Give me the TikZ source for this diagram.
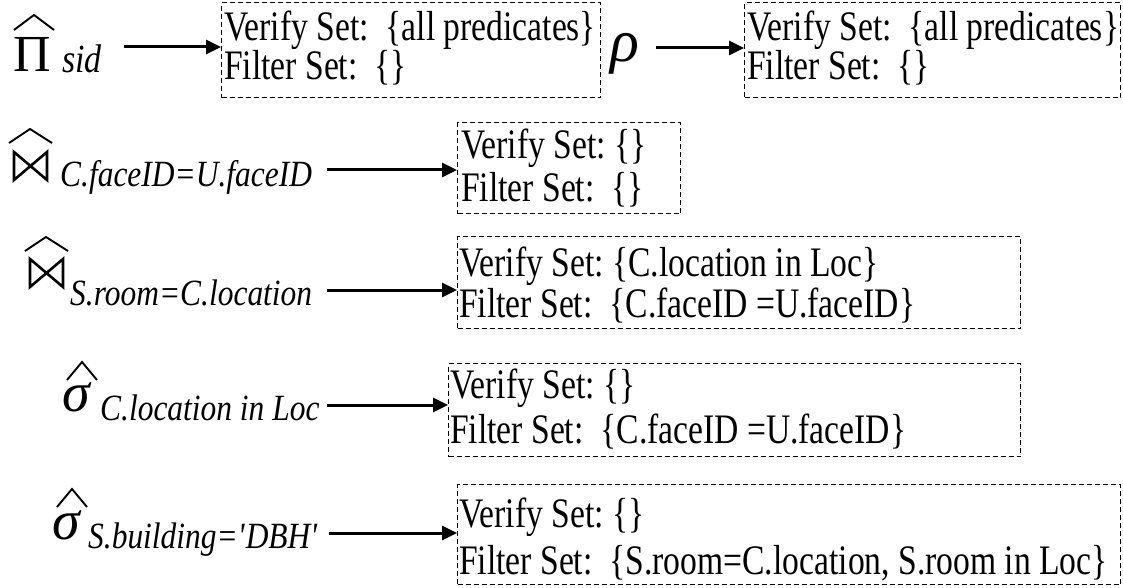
\documentclass[tikz,border=0pt]{standalone}
\usepackage{fontspec}
\setmainfont{Liberation Serif}[FakeStretch=0.8]
\newfontfamily\subfont{Liberation Serif}[FakeStretch=0.85]
\newfontfamily\greekfont{Liberation Serif}
\usetikzlibrary{arrows.meta}
\begin{document}
\begin{tikzpicture}[x=1pt,y=-1pt,
  setbox/.style={draw, line width=1.1pt, dash pattern=on 5pt off 3pt, rectangle, inner sep=0pt, anchor=north west},
  txt/.style={anchor=base west, inner sep=0pt, font=\fontsize{42}{48}\selectfont},
  sub/.style={anchor=base west, inner sep=0pt, font=\subfont\fontsize{37}{44}\selectfont\itshape},
  opsym/.style={anchor=base west, inner sep=0pt, font=\greekfont\fontsize{50}{60}\selectfont},
  conn/.style={line width=3pt, -{Triangle[length=15pt,width=14pt]}},
  hatline/.style={line width=1.9pt, line join=miter},
  bow/.style={line width=2.6pt, line join=miter}]
\useasboundingbox (0,0) rectangle (1123,588);

% boxes
\node[setbox, minimum width=379pt, minimum height=95pt] (b1) at (221,2) {};
\node[setbox, minimum width=376pt, minimum height=95pt] (b2) at (744,2) {};
\node[setbox, minimum width=223pt, minimum height=91pt] (b3) at (457,122) {};
\node[setbox, minimum width=563pt, minimum height=92pt] (b4) at (457,236) {};
\node[setbox, minimum width=572pt, minimum height=93pt] (b5) at (448,363) {};
\node[setbox, minimum width=663pt, minimum height=100pt] (b6) at (457,484) {};

% box texts
\node[txt] (t1a) at (224,41) {Verify Set:~~\{all predicates\}};
\node[txt] (t1b) at (224,80) {Filter Set:~~\{\}};
\node[txt] (t2a) at (747,41) {Verify Set:~~\{all predicates\}};
\node[txt] (t2b) at (747,80) {Filter Set:~~\{\}};
\node[txt] (t3a) at (461,159) {Verify Set:~\{\}};
\node[txt] (t3b) at (461,201) {Filter Set:~~\{\}};
\node[txt] (t4a) at (459,276) {Verify Set:~\{C.location in Loc\}};
\node[txt] (t4b) at (459,317) {Filter Set:~~\{C.faceID =U.faceID\}};
\node[txt] (t5a) at (450,398) {Verify Set:~\{\}};
\node[txt] (t5b) at (450,443) {Filter Set:~~\{C.faceID =U.faceID\}};
\node[txt] (t6a) at (459,527) {Verify Set:~\{\}};
\node[txt] (t6b) at (459,574) {Filter Set:~~\{S.room=C.location, S.room in Loc\}};

% row 1: projection
\node[opsym, font=\greekfont\fontsize{52}{60}\selectfont] (pi) at (13,72) {Π};
\draw[hatline] (14,30) -- (34,15) -- (54,30);
\node[sub, font=\subfont\fontsize{40}{44}\selectfont\itshape] (s1) at (62,73) {sid};
\coordinate (a1) at (124,47);
\draw[conn] (a1) -- (a1 -| b1.west);

% rho
\node[opsym, font=\greekfont\fontsize{60}{66}\selectfont\itshape] (rho) at (610,62) {ρ};
\coordinate (a2) at (656,48);
\draw[conn] (a2) -- (a2 -| b2.west);

% row 2: join C.faceID=U.faceID
\draw[bow] (14,152) -- (47,180) -- (47,152) -- (14,180) -- cycle;
\draw[hatline] (9,143) -- (30,129) -- (52,143);
\node[sub] (s3) at (60,186) {C.faceID=U.faceID};
\coordinate (a3) at (327,170);
\draw[conn] (a3) -- (a3 -| b3.west);

% row 3: join S.room=C.location
\draw[bow] (30,259) -- (63,287) -- (63,259) -- (30,287) -- cycle;
\draw[hatline] (25,251) -- (46,237) -- (68,251);
\node[sub] (s4) at (70,305) {S.room=C.location};
\coordinate (a4) at (327,290);
\draw[conn] (a4) -- (a4 -| b4.west);

% row 4: selection C.location in Loc
\node[opsym, font=\greekfont\fontsize{56}{66}\selectfont\itshape] (sg1) at (62,411) {σ};
\draw[hatline] (67,380) -- (82,362) -- (97,380);
\node[sub] (s5) at (100,420) {C.location in Loc};
\coordinate (a5) at (327,405);
\draw[conn] (a5) -- (a5 -| b5.west);

% row 5: selection S.building='DBH'
\node[opsym, font=\greekfont\fontsize{56}{66}\selectfont\itshape] (sg2) at (52,539) {σ};
\draw[hatline] (57,507) -- (72,489) -- (87,507);
\node[sub] (s6) at (88,548) {S.building=\textquotesingle DBH\textquotesingle};
\coordinate (a6) at (329,533);
\draw[conn] (a6) -- (a6 -| b6.west);
\end{tikzpicture}
\end{document}
